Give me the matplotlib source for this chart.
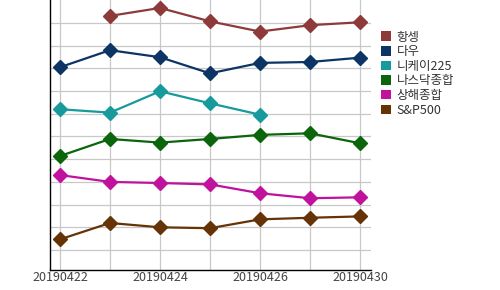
import numpy as np
import matplotlib
matplotlib.use("Agg")
import matplotlib.pyplot as plt
from matplotlib.patches import Patch

plt.rcParams['font.family'] = ['Noto Sans CJK KR', 'DejaVu Sans']

dates = ["20190422", "20190423", "20190424", "20190425", "20190426", "20190427", "20190430"]
tick_labels = ["20190422", "", "20190424", "", "20190426", "", "20190430"]
series_names = ["항셍", "다우", "니케이225", "나스닥종합", "상해종합", "S&P500"]
hangseng = [np.nan, 10.31, 10.66, 10.07, 9.62, 9.90, 10.03]
dow = [8.05, 8.80, 8.49, 7.78, 8.24, 8.28, 8.47]
nikkei = [6.20, 6.05, 6.99, 6.46, 5.96, np.nan, np.nan]
nasdaq = [4.14, 4.89, 4.73, 4.89, 5.07, 5.14, 4.70]
shanghai = [3.30, 3.00, 2.95, 2.89, 2.50, 2.28, 2.32]
sp500 = [0.47, 1.19, 1.00, 0.96, 1.35, 1.42, 1.48]
colors = ["#8e3a3a", "#0c3566", "#169a9c", "#0b650b", "#c0129c", "#653305"]

fig = plt.figure(figsize=(5, 2.9), dpi=100)
ax = fig.add_axes([0.1, 0.069, 0.642, 0.931])

x = np.arange(len(dates))
for vals, c in zip([hangseng, dow, nikkei, nasdaq, shanghai, sp500], colors):
    ax.plot(x, vals, color=c, lw=1.6, marker='D', markersize=6.8, zorder=3)

ax.set_xlim(-0.2, 6.22)
ax.set_ylim(-0.88, 11.01)
ax.set_yticks(np.arange(0, 11, 1))
ax.set_yticklabels([])
ax.set_xticks(x)
ax.set_xticklabels(tick_labels, fontsize=9, color="#444444")
ax.tick_params(axis='both', length=0, pad=1)
ax.grid(True, color="#c8c8c8", lw=0.9)
ax.set_axisbelow(True)
for s in ['top', 'right']:
    ax.spines[s].set_visible(False)
for s in ['left', 'bottom']:
    ax.spines[s].set_color('black')
    ax.spines[s].set_linewidth(1.0)

handles = [Patch(facecolor=c, edgecolor='none') for c in colors]
fig.legend(handles, series_names, loc='upper left', bbox_to_anchor=(0.752, 0.912),
           frameon=False, fontsize=9, handlelength=0.8, handleheight=0.8,
           handletextpad=0.45, labelspacing=0.13, borderaxespad=0, labelcolor="#333333")

fig.savefig("out.png", dpi=100)
